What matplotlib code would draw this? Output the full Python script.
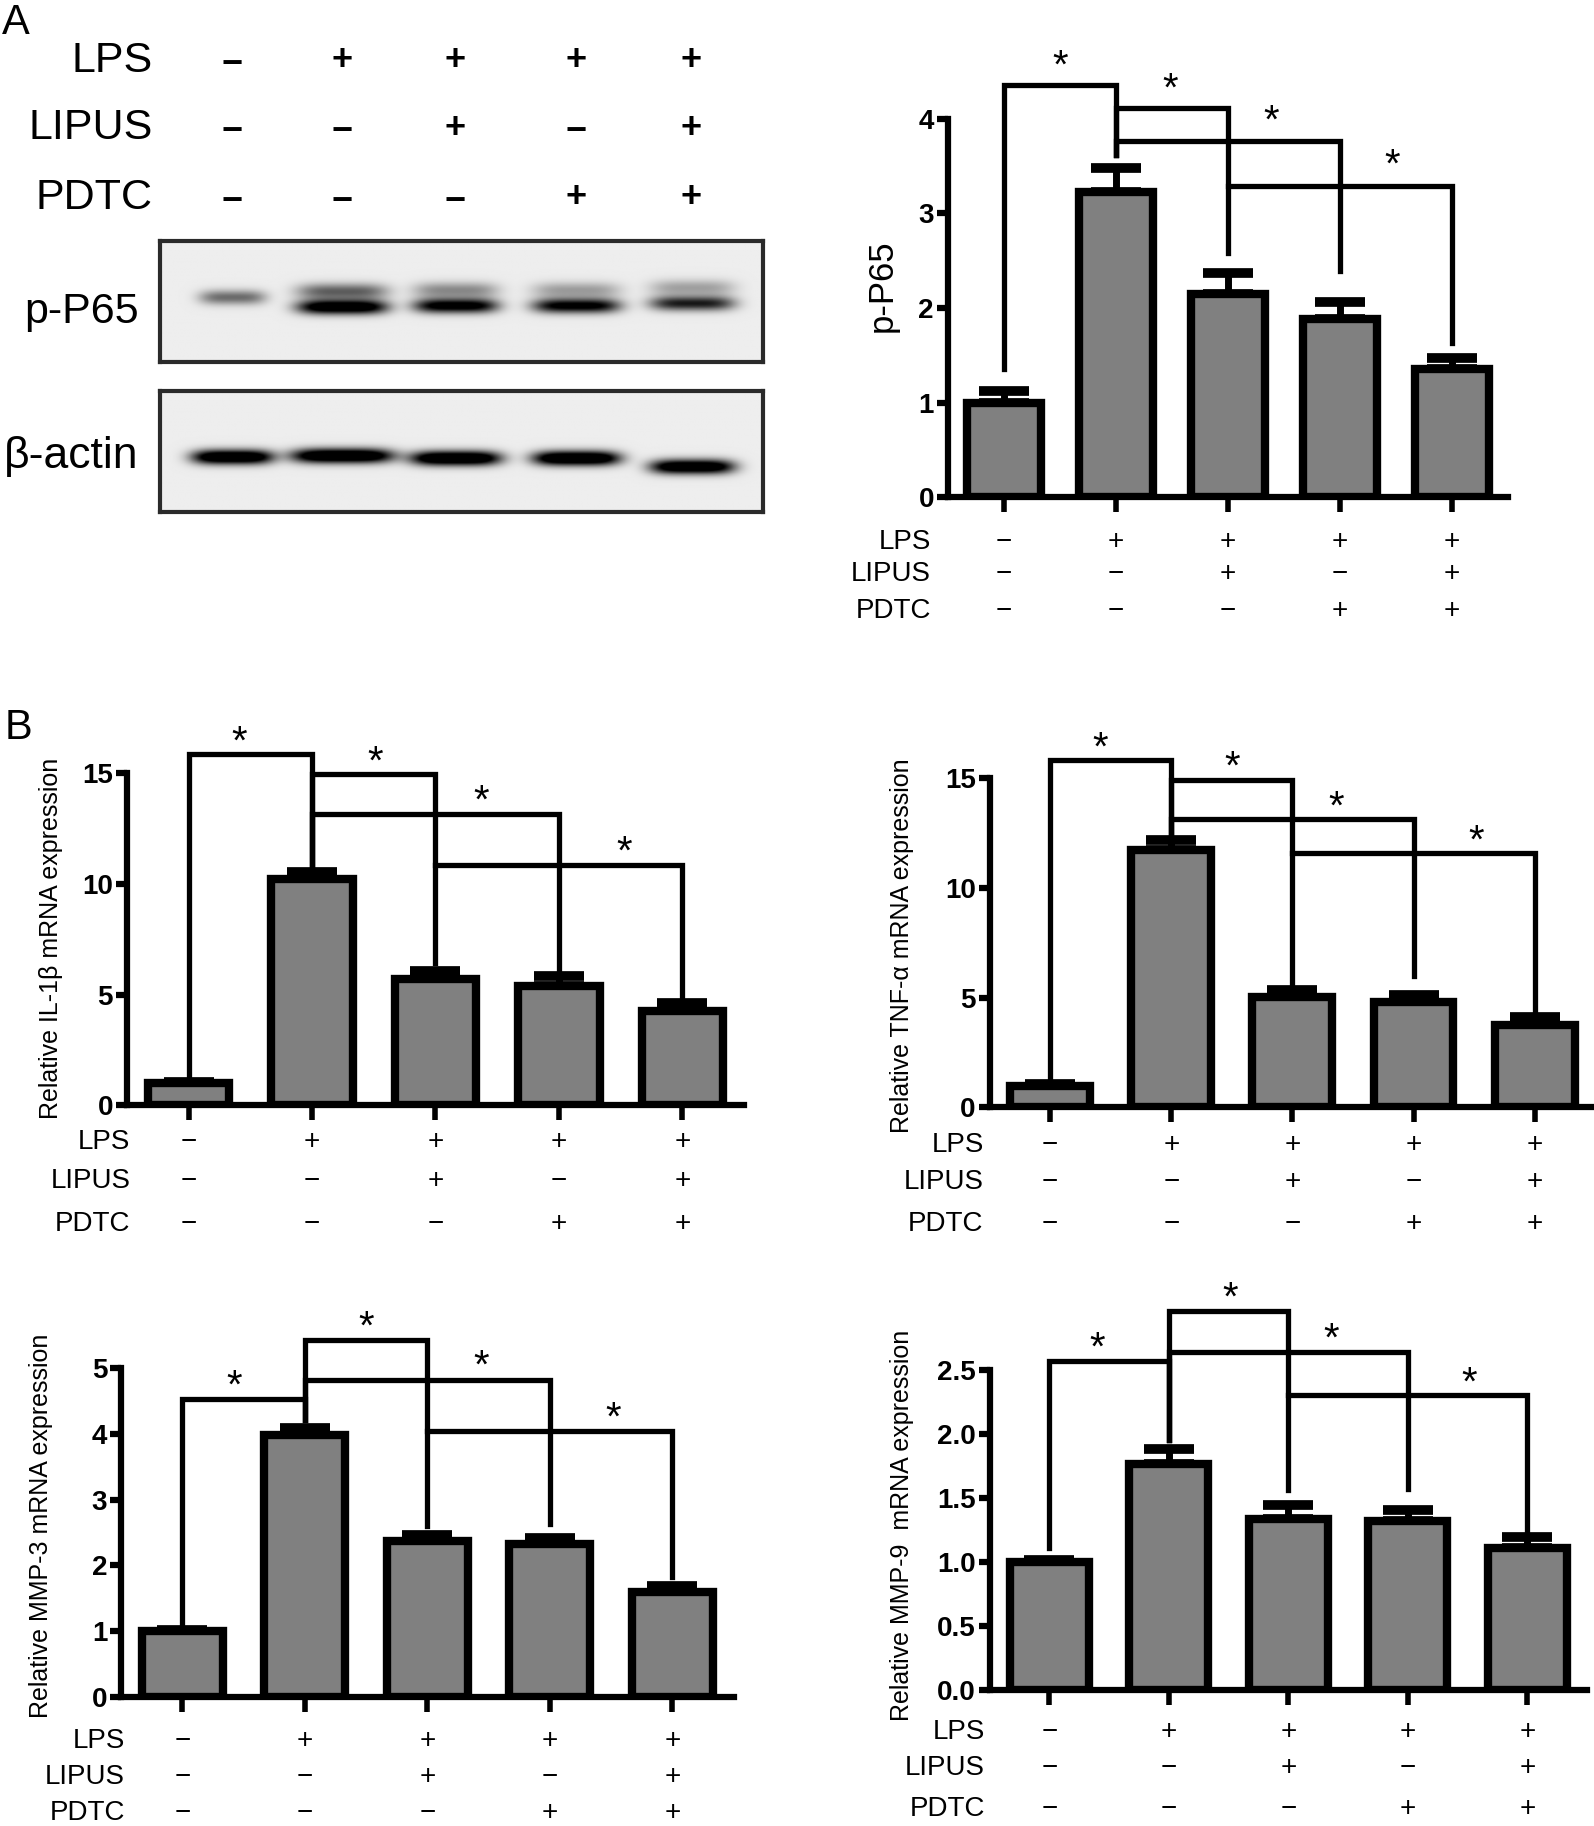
import matplotlib.pyplot as plt
import matplotlib.transforms as mtransforms
import numpy as np

plt.rcParams['font.family'] = ['Liberation Sans', 'DejaVu Sans']

W_REF, H_REF = 1369, 1568   # layout measured on this grid

# treatment table
row_names = ['LPS', 'LIPUS', 'PDTC']
LPS = ['-', '+', '+', '+', '+']
LIPUS = ['-', '-', '+', '-', '+']
PDTC = ['-', '-', '-', '+', '+']
signs = [LPS, LIPUS, PDTC]

# western blot bands (per lane)
lane_pos = [0.12, 0.302, 0.49, 0.69, 0.882]
pp65_low = [0.55, 1.3, 1.15, 1.1, 0.9]
pp65_low_y = [0.47, 0.55, 0.54, 0.54, 0.52]
pp65_up = [0.0, 0.6, 0.42, 0.34, 0.32]
pp65_w = [0.11, 0.15, 0.14, 0.145, 0.14]
actin = [1.4, 1.45, 1.45, 1.45, 1.35]
actin_y = [0.55, 0.54, 0.56, 0.56, 0.63]
actin_w = [0.135, 0.17, 0.15, 0.145, 0.14]

# bar data
pp65_mean = [1.0, 3.23, 2.15, 1.88, 1.36]
pp65_err = [0.12, 0.25, 0.22, 0.18, 0.11]
il1b_mean = [1.0, 10.2, 5.7, 5.38, 4.25]
il1b_err = [0.05, 0.35, 0.38, 0.44, 0.36]
tnf_mean = [1.0, 11.73, 5.03, 4.79, 3.77]
tnf_err = [0.05, 0.44, 0.31, 0.31, 0.36]
mmp3_mean = [1.0, 3.98, 2.37, 2.32, 1.59]
mmp3_err = [0.02, 0.11, 0.1, 0.09, 0.09]
mmp9_mean = [1.0, 1.76, 1.33, 1.32, 1.11]
mmp9_err = [0.01, 0.12, 0.11, 0.08, 0.08]

# significance brackets: (bar i, bar j, height, leg end i, leg end j)
pp65_br = [(0, 1, 4.36, 1.36, 3.62), (1, 2, 4.11, 3.62, 2.58),
           (1, 3, 3.77, 3.62, 2.39), (2, 4, 3.29, 3.29, 1.63)]
pp65_st = [(0.5, 4.55), (1.49, 4.31), (2.39, 3.97), (3.47, 3.5)]
il1b_br = [(0, 1, 15.86, 1.18, 10.8), (1, 2, 14.95, 10.8, 6.43),
           (1, 3, 13.14, 10.8, 6.16), (2, 4, 10.85, 10.85, 4.93)]
il1b_st = [(0.41, 16.4), (1.51, 15.5), (2.37, 13.7), (3.53, 11.4)]
tnf_br = [(0, 1, 15.82, 1.26, 12.25), (1, 2, 14.92, 12.25, 5.54),
          (1, 3, 13.11, 12.25, 5.97), (2, 4, 11.58, 11.58, 4.35)]
tnf_st = [(0.41, 16.35), (1.5, 15.45), (2.36, 13.65), (3.52, 12.1)]
mmp3_br = [(0, 1, 4.54, 1.1, 4.22), (1, 2, 5.43, 4.22, 2.6),
           (1, 3, 4.83, 4.22, 2.63), (2, 4, 4.05, 4.05, 1.82)]
mmp3_st = [(0.42, 4.72), (1.5, 5.62), (2.44, 5.02), (3.52, 4.24)]
mmp9_br = [(0, 1, 2.57, 1.11, 1.95), (1, 2, 2.96, 1.95, 1.56),
           (1, 3, 2.64, 1.95, 1.57), (2, 4, 2.3, 2.3, 1.25)]
mmp9_st = [(0.4, 2.66), (1.51, 3.05), (2.36, 2.73), (3.51, 2.39)]

fig = plt.figure(figsize=(15.94, 18.26), dpi=100)


def rect(l, t, r, b):
    return [l / W_REF, 1 - b / H_REF, (r - l) / W_REF, (b - t) / H_REF]


def fxy(x, y):
    return x / W_REF, 1 - y / H_REF


def sign_char(s):
    return '\u2212' if s == '-' else s


def blot(r, inten, ys, ws, upper=None):
    ax = fig.add_axes(rect(*r))
    H, W = 160, 700
    yy, xx = np.mgrid[0:1:H * 1j, 0:1:W * 1j]
    dark = np.zeros((H, W))
    for k, xc in enumerate(lane_pos):
        band = np.exp(-np.abs((xx - xc) / (ws[k] / 2)) ** 4)
        dark += inten[k] * band * np.exp(-((yy - ys[k]) / 0.06) ** 2)
        if upper is not None:
            dark += upper[k] * band * np.exp(-((yy - ys[k] + 0.13) / 0.065) ** 2)
    img = 0.93 - 0.93 * np.clip(dark, 0, 1)
    ax.imshow(img, cmap='gray', vmin=0, vmax=1, extent=(0, 1, 1, 0),
              aspect='auto', interpolation='bilinear')
    ax.set_xlim(0, 1)
    ax.set_ylim(1, 0)
    ax.set_xticks([])
    ax.set_yticks([])
    for s in ax.spines.values():
        s.set_linewidth(3)
        s.set_color('#2a2a2a')
    return ax


# ---- panel A, blot ----
fig.text(*fxy(2, 20), 'A', fontsize=30, va='center', ha='left')
b1 = blot((137, 207, 655, 311), pp65_low, pp65_low_y, pp65_w, upper=pp65_up)
b2 = blot((137, 336, 655, 440), actin, actin_y, actin_w)
fig.text(*fxy(119, 268), 'p-P65', fontsize=31, ha='right', va='center')
fig.text(*fxy(119, 392), 'β-actin', fontsize=32, ha='right', va='center')
head_y = [52, 110, 170]
for name, row, yv in zip(row_names, signs, head_y):
    fig.text(*fxy(131, yv), name, fontsize=31, ha='right', va='center')
    for xc, s in zip(lane_pos, row):
        fx = (137 + xc * (655 - 137)) / W_REF
        dy = 3 if s == '-' else 0
        fig.text(fx, 1 - (yv + dy) / H_REF, sign_char(s), fontsize=26,
                 fontweight='bold', ha='center', va='center')


def bar_panel(r, means, errs, ymax, ticks, tlabels, brackets, stars,
              rows_y, lab_x, ylabel, ylab_xy, ylab_size=18):
    ax = fig.add_axes(rect(*r))
    x = np.arange(len(means))
    ax.bar(x, means, width=0.66, color='#808080', edgecolor='black',
           linewidth=6, zorder=2)
    ax.errorbar(x, means, yerr=[np.zeros(len(errs)), errs], fmt='none',
                ecolor='black', elinewidth=5, capsize=18, capthick=7, zorder=1)
    ax.set_xlim(-0.5, 4.5)
    ax.set_ylim(0, ymax)
    ax.spines['top'].set_visible(False)
    ax.spines['right'].set_visible(False)
    ax.spines['left'].set_linewidth(4.5)
    ax.spines['bottom'].set_linewidth(4.5)
    ax.set_yticks(ticks)
    ax.set_yticklabels(tlabels, fontsize=20, fontweight='bold')
    ax.set_xticks(x)
    ax.set_xticklabels([])
    ax.tick_params(axis='y', length=8, width=4.5, pad=2)
    ax.tick_params(axis='x', length=11, width=4, direction='out')
    for i, j, h, lo_i, lo_j in brackets:
        ax.plot([i, i, j, j], [lo_i, h, h, lo_j], color='black', lw=3.8,
                clip_on=False, solid_joinstyle='miter', zorder=3)
    for sx, sy in stars:
        ax.text(sx, sy, '*', fontsize=29, ha='center', va='center',
                clip_on=False)
    tr = mtransforms.blended_transform_factory(ax.transData, ax.transAxes)
    for name, row, yv in zip(row_names, signs, rows_y):
        ax.text(lab_x, yv, name, fontsize=20, ha='right', va='center',
                transform=tr)
        for xi, s in zip(x, row):
            ax.text(xi, yv, sign_char(s), fontsize=20, ha='center',
                    va='center', transform=tr)
    fig.text(*fxy(*ylab_xy), ylabel, fontsize=ylab_size, rotation=90,
             ha='center', va='center')
    return ax


bar_panel((814, 102, 1295, 427), pp65_mean, pp65_err, 4, [0, 1, 2, 3, 4],
          ['0', '1', '2', '3', '4'], pp65_br, pp65_st,
          [-0.117, -0.203, -0.30], -0.65, 'p-P65', (758, 245), ylab_size=25)

fig.text(*fxy(4, 625), 'B', fontsize=30, va='center', ha='left')
bar_panel((109, 664, 639, 949), il1b_mean, il1b_err, 15, [0, 5, 10, 15],
          ['0', '5', '10', '15'], il1b_br, il1b_st,
          [-0.112, -0.228, -0.358], -0.47, 'Relative IL-1β mRNA expression',
          (44, 806))
bar_panel((850, 668, 1370, 951), tnf_mean, tnf_err, 15, [0, 5, 10, 15],
          ['0', '5', '10', '15'], tnf_br, tnf_st,
          [-0.113, -0.226, -0.353], -0.55, 'Relative TNF-α mRNA expression',
          (775, 812))
bar_panel((104, 1175, 630, 1457), mmp3_mean, mmp3_err, 5, [0, 1, 2, 3, 4, 5],
          ['0', '1', '2', '3', '4', '5'], mmp3_br, mmp3_st,
          [-0.135, -0.245, -0.355], -0.47, 'Relative MMP-3 mRNA expression',
          (35, 1310))
bar_panel((850, 1176, 1363, 1451), mmp9_mean, mmp9_err, 2.5,
          [0, 0.5, 1.0, 1.5, 2.0, 2.5],
          ['0.0', '0.5', '1.0', '1.5', '2.0', '2.5'], mmp9_br, mmp9_st,
          [-0.131, -0.244, -0.371], -0.54, 'Relative MMP-9  mRNA expression',
          (775, 1310))

fig.savefig('out.png', dpi=100)
